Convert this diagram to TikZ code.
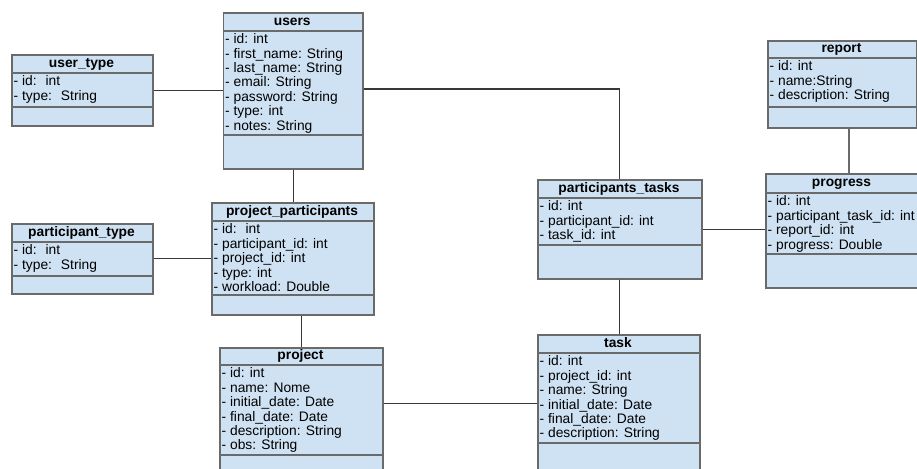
\documentclass[tikz,border=0pt]{standalone}
\usepackage{fontspec}
\setmainfont{Liberation Sans}
\definecolor{boxfill}{HTML}{CFE2F3}
\definecolor{boxline}{HTML}{6A6A6A}
\definecolor{conn}{HTML}{383838}
\tikzset{
  classbox/.style={draw=boxline, fill=boxfill, line width=1.6pt, inner sep=0pt, rectangle},
  divider/.style={draw=boxline, line width=1.6pt},
  classtitle/.style={font=\bfseries\fontsize{13.8}{15}\selectfont, inner sep=0pt, text height=9.8pt, text depth=2.6pt},
  attr/.style={font=\fontsize{13.8}{15}\selectfont, inner sep=0pt},
  conn/.style={draw=conn, line width=1.1pt},
  grayconn/.style={draw=boxline, line width=1.6pt}
}
\newcommand\umlclass[9]{%
  \pgfmathsetmacro\cw{#4-#2}\pgfmathsetmacro\ch{#7-#3}%
  \node[classbox, minimum width=\cw pt, minimum height=\ch pt, anchor=north west] (#1) at (#2,#3) {};
  \draw[divider] (#2,#5) -- (#4,#5);
  \draw[divider] (#2,#6) -- (#4,#6);
  \node[classtitle] (#1-t) at ({(#2+#4)/2},{(#3+#5)/2}) {#8};
  \foreach \a [count=\i] in {#9} {
    \node[attr, anchor=base west] (#1-\i) at ({#2+2.5},{#5+12.8+(\i-1)*14.4}) {\a};
  }
}
\begin{document}
\begin{tikzpicture}[x=1pt,y=-1pt]
\clip (0,0) rectangle (917,468);
\umlclass{usertype}{11}{54}{152}{73}{107}{125}{user\_type}{- id:~ int, - type:~ String}
\umlclass{users}{222.5}{12}{362}{31}{135}{168}{users}{- id: int, - first\_name: String, - last\_name: String, - email: String, - password: String, - type: int, - notes: String}
\umlclass{parttype}{11}{223}{152}{242}{276}{293}{participant\_type}{- id:~ int, - type:~ String}
\umlclass{pp}{211}{202}{373}{221}{295}{314}{project\_participants}{- id:~ int, - participant\_id: int, - project\_id: int, - type: int, - workload: Double}
\umlclass{project}{219}{347}{382}{365}{455}{480}{project}{- id: int, - name: Nome, - initial\_date: Date, - final\_date: Date, - description: String, - obs: String}
\umlclass{ptasks}{537}{179}{701}{198}{245}{278}{participants\_tasks}{- id: int, - participant\_id: int, - task\_id: int}
\umlclass{task}{537}{334}{699}{353}{443}{480}{task}{- id: int, - project\_id: int, - name: String, - initial\_date: Date, - final\_date: Date, - description: String}
\umlclass{report}{767}{40}{916}{58}{107}{127}{report}{- id: int, - name:String, - description: String}
\umlclass{progress}{765}{173}{918}{193}{254}{287}{progress}{- id: int, - participant\_task\_id: int, - report\_id: int, - progress: Double}
% connectors
\draw[conn] (usertype.east) -- (usertype.east -| users.west);
\draw[conn] (users.south) -- (users.south |- pp.north);
\draw[conn] (parttype.east) -- (parttype.east -| pp.west);
\draw[conn] (project.north) -- (project.north |- pp.south);
\coordinate (pjt) at ([yshift=-56.5pt]project.north east);
\draw[conn] (pjt) -- (pjt -| task.west);
\coordinate (usr) at ([yshift=-77pt]users.north east);
\draw[conn] (usr) -| (ptasks.north);
\draw[conn] (ptasks.south) -- (ptasks.south |- task.north);
\draw[conn] (ptasks.east) -- (ptasks.east -| progress.west);
\coordinate (rp) at ([xshift=82pt]report.south west);
\draw[grayconn] (rp) -- (rp |- progress.north);
\end{tikzpicture}
\end{document}
